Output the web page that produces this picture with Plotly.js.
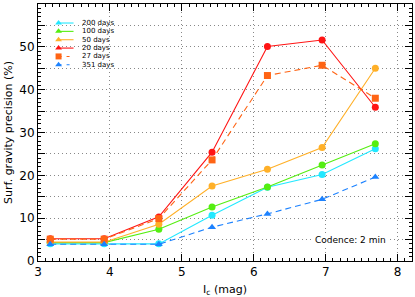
<!DOCTYPE html>
<html><head><meta charset="utf-8">
<script src="https://cdn.plot.ly/plotly-3.0.1.min.js"></script>
<style>html,body{margin:0;padding:0;background:#fff}#c{width:415px;height:297px}</style>
</head><body><div id="c"></div>
<script>
var mags = [3.17, 3.92, 4.68, 5.42, 6.19, 6.95, 7.69];
var names = ['200 days', '100 days', '50 days', '20 days', '27 days', '351 days'];
var d200 = [4.0, 4.0, 4.0, 10.7, 17.2, 20.2, 26.2];
var d100 = [4.3, 4.3, 7.4, 12.6, 17.3, 22.4, 27.4];
var d50  = [4.4, 4.4, 8.6, 17.5, 21.4, 26.5, 45.0];
var d20  = [5.2, 5.2, 10.3, 25.4, 50.1, 51.6, 35.9];
var d27  = [5.1, 5.1, 9.9, 23.6, 43.3, 45.7, 38.0];
var d351 = [3.9, 3.9, 3.9, 7.9, 11.0, 14.4, 19.6];
var yTicks = [0, 5, 10, 15, 20, 25, 30, 35, 40, 45, 50, 55, 60];
var yTickText = ['0', '', '10', '', '20', '', '30', '', '40', '', '50', '', '60'];
var xTicks = [3, 4, 5, 6, 7, 8];

var series = [d200, d100, d50, d20, d27, d351];
var colors = ['#22e8ff', '#55ee11', '#ffb028', '#ff1414', '#ff6414', '#1c82ff'];
var symbols = ['circle', 'circle', 'circle', 'circle', 'square', 'triangle-up'];
var legSymbols = ['triangle-up', 'triangle-up', 'triangle-up', 'triangle-up', 'square', 'triangle-up'];
var dashes = ['solid', 'solid', 'solid', 'solid', '6px,4px', '6px,4px'];

var traces = [];
series.forEach(function (s, i) {
  traces.push({
    x: mags, y: s, type: 'scatter', mode: 'lines+markers', showlegend: false,
    line: {color: colors[i], width: 1.1, dash: dashes[i]},
    marker: {color: colors[i], symbol: symbols[i], size: 7}
  });
});
// custom compact legend on overlay axes
var annotations = [];
var lx0 = 0.055, lx1 = 0.095, ltx = 0.112, ly0 = 0.926, ldy = 0.0325;
names.forEach(function (n, i) {
  var yy = ly0 - i * ldy;
  traces.push({
    x: [lx0, lx1], y: [yy, yy], xaxis: 'x2', yaxis: 'y2', type: 'scatter', mode: 'lines',
    showlegend: false, hoverinfo: 'skip',
    line: {color: colors[i], width: 1.1, dash: i >= 4 ? '3px,5px' : 'solid'}
  });
  traces.push({
    x: [lx0], y: [yy], xaxis: 'x2', yaxis: 'y2', type: 'scatter', mode: 'markers',
    showlegend: false, hoverinfo: 'skip',
    marker: {color: colors[i], symbol: legSymbols[i], size: 6}
  });
  annotations.push({
    xref: 'paper', yref: 'paper', x: ltx, y: yy, xanchor: 'left', yanchor: 'middle',
    text: n, showarrow: false, font: {family: 'DejaVu Sans', size: 7, color: '#000'}
  });
});
annotations.push({
  xref: 'paper', yref: 'paper', x: 0.935, y: 0.08, xanchor: 'right', yanchor: 'middle',
  text: 'Codence: 2 min', showarrow: false, bgcolor: '#fff', borderpad: 1,
  font: {family: 'DejaVu Sans', size: 9, color: '#000'}
});

var layout = {
  width: 415, height: 297,
  margin: {l: 38, r: 3, t: 4, b: 36},
  paper_bgcolor: '#fff', plot_bgcolor: '#fff',
  font: {family: 'DejaVu Sans', color: '#000'},
  showlegend: false,
  xaxis: {
    range: [3, 8.2], tickmode: 'array', tickvals: xTicks,
    ticks: 'inside', ticklen: 7, tickcolor: '#000', tickwidth: 1,
    minor: {dtick: 0.1, ticks: 'inside', ticklen: 3, tickcolor: '#000', showgrid: false},
    showgrid: true, gridcolor: '#888', griddash: '1px,3px', gridwidth: 1,
    showline: true, linecolor: '#000', linewidth: 1, mirror: 'allticks',
    zeroline: false, tickfont: {size: 12},
    title: {text: 'I<sub>c</sub> (mag)', font: {size: 11}, standoff: 6}
  },
  yaxis: {
    range: [0, 60], tickmode: 'array', tickvals: yTicks, ticktext: yTickText,
    ticks: 'inside', ticklen: 7, tickcolor: '#000', tickwidth: 1,
    minor: {dtick: 1, ticks: 'inside', ticklen: 3, tickcolor: '#000', showgrid: false},
    showgrid: true, gridcolor: '#888', griddash: '1px,3px', gridwidth: 1,
    showline: true, linecolor: '#000', linewidth: 1, mirror: 'allticks',
    zeroline: false, tickfont: {size: 12},
    title: {text: 'Surf. gravity precision (%)', font: {size: 11}, standoff: 4}
  },
  xaxis2: {overlaying: 'x', anchor: 'y2', range: [0, 1], visible: false, fixedrange: true},
  yaxis2: {overlaying: 'y', anchor: 'x2', range: [0, 1], visible: false, fixedrange: true},
  annotations: annotations
};
Plotly.newPlot('c', traces, layout, {displayModeBar: false, staticPlot: true});
</script></body></html>
